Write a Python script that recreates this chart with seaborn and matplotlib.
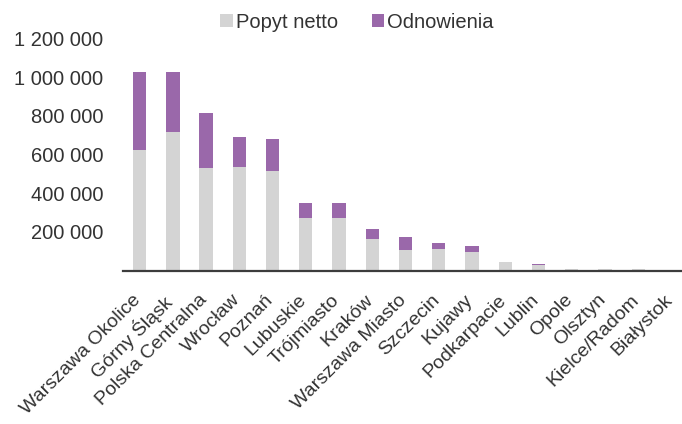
import numpy as np
import pandas as pd
import matplotlib
matplotlib.use("Agg")
import matplotlib.pyplot as plt
import matplotlib.transforms as mtransforms
from matplotlib.ticker import FuncFormatter
import seaborn as sns

regions = ['Warszawa Okolice', 'Górny Śląsk', 'Polska Centralna', 'Wrocław', 'Poznań',
           'Lubuskie', 'Trójmiasto', 'Kraków', 'Warszawa Miasto', 'Szczecin', 'Kujawy',
           'Podkarpacie', 'Lublin', 'Opole', 'Olsztyn', 'Kielce/Radom', 'Białystok']
popyt_netto = [626000, 719000, 528000, 533000, 517000, 274000, 274000, 162000, 106000,
               113000, 96000, 43000, 28000, 10000, 9000, 6000, 2000]
odnowienia = [400000, 307000, 285000, 156000, 161000, 73000, 73000, 52000, 68000,
              28000, 31000, 0, 8000, 0, 0, 0, 0]
yticks = [200000, 400000, 600000, 800000, 1000000, 1200000]

df = pd.DataFrame({'region': regions, 'popyt': popyt_netto, 'odn': odnowienia})
df['total'] = df['popyt'] + df['odn']

sns.set_style('white')
plt.rcParams['font.family'] = ['Liberation Sans', 'DejaVu Sans']

gray = '#d4d4d4'
purple = '#9a68aa'
txt = '#333333'

fig = plt.figure(figsize=(6.82, 4.24), dpi=100)
ax = fig.add_axes([0.1804, 0.362, 0.8284, 0.547])

# stacked: total in purple, then net demand in gray on top of it
sns.barplot(data=df, x='region', y='total', color=purple, width=0.4,
            saturation=1, linewidth=0, ax=ax, label='Odnowienia')
sns.barplot(data=df, x='region', y='popyt', color=gray, width=0.4,
            saturation=1, linewidth=0, ax=ax, label='Popyt netto')

handles, labels = ax.get_legend_handles_labels()
if ax.get_legend() is not None:
    ax.get_legend().remove()

ax.set_ylim(0, 1200000)
ax.set_yticks(yticks)
ax.yaxis.set_major_formatter(FuncFormatter(lambda v, p: f"{int(v):,}".replace(',', ' ')))
ax.set_xlabel('')
ax.set_ylabel('')

for s in ['top', 'right', 'left']:
    ax.spines[s].set_visible(False)
ax.spines['bottom'].set_color('#3c3c3c')
ax.spines['bottom'].set_linewidth(1.6)

ax.tick_params(axis='y', length=0, pad=14.4, labelsize=14.5, labelcolor=txt)
ax.tick_params(axis='x', length=0, pad=15, labelsize=14, labelcolor=txt)
offset = mtransforms.ScaledTranslation(4 / 100, 0, fig.dpi_scale_trans)
for lab in ax.get_xticklabels():
    lab.set_rotation(45)
    lab.set_ha('right')
    lab.set_transform(lab.get_transform() + offset)

order = [labels.index('Popyt netto'), labels.index('Odnowienia')]
leg = fig.legend([handles[i] for i in order], [labels[i] for i in order],
                 loc='center', bbox_to_anchor=(357 / 682, 1 - 22 / 424), ncol=2,
                 frameon=False, fontsize=14.5, handlelength=0.6, handleheight=0.6,
                 handletextpad=0.15, columnspacing=1.7, borderaxespad=0)
for t in leg.get_texts():
    t.set_color(txt)

fig.savefig('out.png', dpi=100)
